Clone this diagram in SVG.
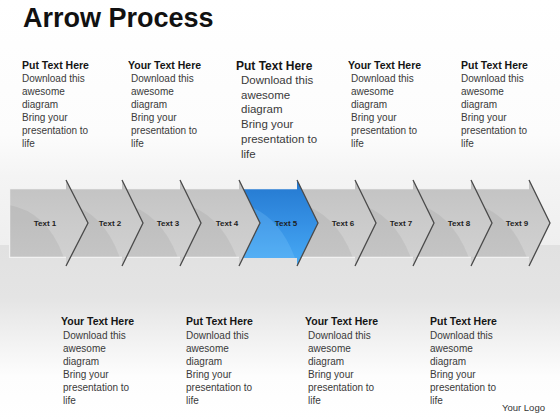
<svg xmlns="http://www.w3.org/2000/svg" width="560" height="420" viewBox="0 0 560 420">
<defs>
<linearGradient id="bgTop" x1="0" y1="0" x2="0" y2="245" gradientUnits="userSpaceOnUse">
<stop offset="0" stop-color="#ffffff"/>
<stop offset="0.55" stop-color="#fcfcfc"/>
<stop offset="0.72" stop-color="#f4f4f4"/>
<stop offset="1" stop-color="#efefef"/>
</linearGradient>
<linearGradient id="bgBot" x1="0" y1="245" x2="0" y2="420" gradientUnits="userSpaceOnUse">
<stop offset="0" stop-color="#e1e1e1"/>
<stop offset="0.3" stop-color="#e4e4e4"/>
<stop offset="0.75" stop-color="#fdfdfd"/>
<stop offset="1" stop-color="#ffffff"/>
</linearGradient>
<linearGradient id="gray" x1="0" y1="180" x2="0" y2="266" gradientUnits="userSpaceOnUse">
<stop offset="0" stop-color="#c2c2c2"/>
<stop offset="0.5" stop-color="#cbcbcb"/>
<stop offset="1" stop-color="#d2d2d2"/>
</linearGradient>
<linearGradient id="blue" x1="0" y1="180" x2="0" y2="266" gradientUnits="userSpaceOnUse">
<stop offset="0" stop-color="#2478cf"/>
<stop offset="0.5" stop-color="#3590e4"/>
<stop offset="1" stop-color="#48abf5"/>
</linearGradient>
<style>
.seg{stroke:none}
.g{fill:url(#gray)}
.b{fill:url(#blue)}
.shade{fill:#000;opacity:0.055}
.bshade{fill:#8fd0ff;opacity:0.22}
.head{fill:none;stroke:#4a4a4a;stroke-width:1.3;stroke-linejoin:miter}
.hi{fill:none;stroke:#f2f2f2;stroke-width:1.2}
.lbl{font-family:"Liberation Sans",Arial,sans-serif;font-size:8px;font-weight:bold;fill:#1e1e1e;text-anchor:middle}
.h{font-family:"Liberation Sans",Arial,sans-serif;font-size:10.5px;font-weight:bold;fill:#151515}
.t{font-family:"Liberation Sans",Arial,sans-serif;font-size:10px;fill:#3a3a3a}
.hb{font-family:"Liberation Sans",Arial,sans-serif;font-size:12px;font-weight:bold;fill:#151515}
.tb{font-family:"Liberation Sans",Arial,sans-serif;font-size:11.5px;fill:#3a3a3a}
</style>
</defs>
<rect x="0" y="0" width="560" height="245" fill="url(#bgTop)"/>
<rect x="0" y="245" width="560" height="175" fill="url(#bgBot)"/>
<text x="23" y="27" font-family="'Liberation Sans',Arial,sans-serif" font-size="27" font-weight="bold" fill="#111">Arrow Process</text>

<g id="arrows">
<g id="seg9">
<path class="seg g" d="M471,188 L529,188 L529,180 L550,223 L529,266 L529,258 L471,258 L492,223 Z"/>
<path class="shade" d="M471,203 Q510,212 527,258 L471,258 Z"/>
<path class="hi" d="M471,188.6 L529,188.6 M471,257.4 L529,257.4"/>
<path class="head" d="M529,180 L550,223 L529,266"/>
<text class="lbl" x="517" y="226">Text 9</text>
</g>
<g id="seg8">
<path class="seg g" d="M413,188 L471,188 L471,180 L492,223 L471,266 L471,258 L413,258 L434,223 Z"/>
<path class="shade" d="M413,203 Q452,212 469,258 L413,258 Z"/>
<path class="hi" d="M413,188.6 L471,188.6 M413,257.4 L471,257.4"/>
<path class="head" d="M471,180 L492,223 L471,266"/>
<text class="lbl" x="459" y="226">Text 8</text>
</g>
<g id="seg7">
<path class="seg g" d="M355,188 L413,188 L413,180 L434,223 L413,266 L413,258 L355,258 L376,223 Z"/>
<path class="shade" d="M355,203 Q394,212 411,258 L355,258 Z"/>
<path class="hi" d="M355,188.6 L413,188.6 M355,257.4 L413,257.4"/>
<path class="head" d="M413,180 L434,223 L413,266"/>
<text class="lbl" x="401" y="226">Text 7</text>
</g>
<g id="seg6">
<path class="seg g" d="M297,188 L355,188 L355,180 L376,223 L355,266 L355,258 L297,258 L318,223 Z"/>
<path class="shade" d="M297,203 Q336,212 353,258 L297,258 Z"/>
<path class="hi" d="M297,188.6 L355,188.6 M297,257.4 L355,257.4"/>
<path class="head" d="M355,180 L376,223 L355,266"/>
<text class="lbl" x="343" y="226">Text 6</text>
</g>
<g id="seg5">
<path class="seg b" d="M239,188 L297,188 L297,180 L318,223 L297,266 L297,258 L239,258 L260,223 Z"/>
<path class="bshade" d="M239,203 Q278,212 295,258 L239,258 Z"/>
<path class="hi" d="M239,188.6 L297,188.6" stroke="#9ccff7"/>
<path class="head" d="M297,180 L318,223 L297,266" stroke="#1a3550"/>
<text class="lbl" x="286" y="226">Text 5</text>
</g>
<g id="seg4">
<path class="seg g" d="M180,188 L239,188 L239,180 L260,223 L239,266 L239,258 L180,258 L201,223 Z"/>
<path class="shade" d="M180,203 Q220,212 237,258 L180,258 Z"/>
<path class="hi" d="M180,188.6 L239,188.6 M180,257.4 L239,257.4"/>
<path class="head" d="M239,180 L260,223 L239,266"/>
<text class="lbl" x="227" y="226">Text 4</text>
</g>
<g id="seg3">
<path class="seg g" d="M122,188 L180,188 L180,180 L201,223 L180,266 L180,258 L122,258 L143,223 Z"/>
<path class="shade" d="M122,203 Q161,212 178,258 L122,258 Z"/>
<path class="hi" d="M122,188.6 L180,188.6 M122,257.4 L180,257.4"/>
<path class="head" d="M180,180 L201,223 L180,266"/>
<text class="lbl" x="168" y="226">Text 3</text>
</g>
<g id="seg2">
<path class="seg g" d="M66,188 L122,188 L122,180 L143,223 L122,266 L122,258 L66,258 L88,223 Z"/>
<path class="shade" d="M66,203 Q104,212 120,258 L66,258 Z"/>
<path class="hi" d="M66,188.6 L122,188.6 M66,257.4 L122,257.4"/>
<path class="head" d="M122,180 L143,223 L122,266"/>
<text class="lbl" x="110" y="226">Text 2</text>
</g>
<g id="seg1">
<path class="seg g" d="M9,188 L66,188 L66,180 L88,223 L66,266 L66,258 L9,258 Z"/>
<path class="shade" d="M9,205 Q48,212 64,258 L9,258 Z"/>
<path class="hi" d="M9.6,258 L9.6,188.6 L66,188.6 M9,257.4 L66,257.4"/>
<path class="head" d="M66,180 L88,223 L66,266"/>
<text class="lbl" x="45" y="226">Text 1</text>
</g>
</g>

<g id="top1">
<text class="h" x="22" y="69">Put Text Here</text>
<text class="t" x="22" y="82">Download this</text>
<text class="t" x="22" y="95">awesome</text>
<text class="t" x="22" y="108">diagram</text>
<text class="t" x="22" y="121">Bring your</text>
<text class="t" x="22" y="134">presentation to</text>
<text class="t" x="22" y="147">life</text>
</g>
<g id="top2">
<text class="h" x="128" y="69">Your Text Here</text>
<text class="t" x="131" y="82">Download this</text>
<text class="t" x="131" y="95">awesome</text>
<text class="t" x="131" y="108">diagram</text>
<text class="t" x="131" y="121">Bring your</text>
<text class="t" x="131" y="134">presentation to</text>
<text class="t" x="131" y="147">life</text>
</g>
<g id="top3">
<text class="hb" x="236" y="70">Put Text Here</text>
<text class="tb" x="241" y="84">Download this</text>
<text class="tb" x="241" y="99">awesome</text>
<text class="tb" x="241" y="113">diagram</text>
<text class="tb" x="241" y="128">Bring your</text>
<text class="tb" x="241" y="143">presentation to</text>
<text class="tb" x="241" y="158">life</text>
</g>
<g id="top4">
<text class="h" x="348" y="69">Your Text Here</text>
<text class="t" x="351" y="82">Download this</text>
<text class="t" x="351" y="95">awesome</text>
<text class="t" x="351" y="108">diagram</text>
<text class="t" x="351" y="121">Bring your</text>
<text class="t" x="351" y="134">presentation to</text>
<text class="t" x="351" y="147">life</text>
</g>
<g id="top5">
<text class="h" x="461" y="69">Put Text Here</text>
<text class="t" x="461" y="82">Download this</text>
<text class="t" x="461" y="95">awesome</text>
<text class="t" x="461" y="108">diagram</text>
<text class="t" x="461" y="121">Bring your</text>
<text class="t" x="461" y="134">presentation to</text>
<text class="t" x="461" y="147">life</text>
</g>

<g id="bot1">
<text class="h" x="61" y="325">Your Text Here</text>
<text class="t" x="63" y="339">Download this</text>
<text class="t" x="63" y="352">awesome</text>
<text class="t" x="63" y="365">diagram</text>
<text class="t" x="63" y="378">Bring your</text>
<text class="t" x="63" y="391">presentation to</text>
<text class="t" x="63" y="404">life</text>
</g>
<g id="bot2">
<text class="h" x="186" y="325">Put Text Here</text>
<text class="t" x="186" y="339">Download this</text>
<text class="t" x="186" y="352">awesome</text>
<text class="t" x="186" y="365">diagram</text>
<text class="t" x="186" y="378">Bring your</text>
<text class="t" x="186" y="391">presentation to</text>
<text class="t" x="186" y="404">life</text>
</g>
<g id="bot3">
<text class="h" x="305" y="325">Your Text Here</text>
<text class="t" x="308" y="339">Download this</text>
<text class="t" x="308" y="352">awesome</text>
<text class="t" x="308" y="365">diagram</text>
<text class="t" x="308" y="378">Bring your</text>
<text class="t" x="308" y="391">presentation to</text>
<text class="t" x="308" y="404">life</text>
</g>
<g id="bot4">
<text class="h" x="430" y="325">Put Text Here</text>
<text class="t" x="430" y="339">Download this</text>
<text class="t" x="430" y="352">awesome</text>
<text class="t" x="430" y="365">diagram</text>
<text class="t" x="430" y="378">Bring your</text>
<text class="t" x="430" y="391">presentation to</text>
<text class="t" x="430" y="404">life</text>
</g>
<text x="502" y="411" font-family="'Liberation Sans',Arial,sans-serif" font-size="9.5" fill="#333">Your Logo</text>
</svg>
